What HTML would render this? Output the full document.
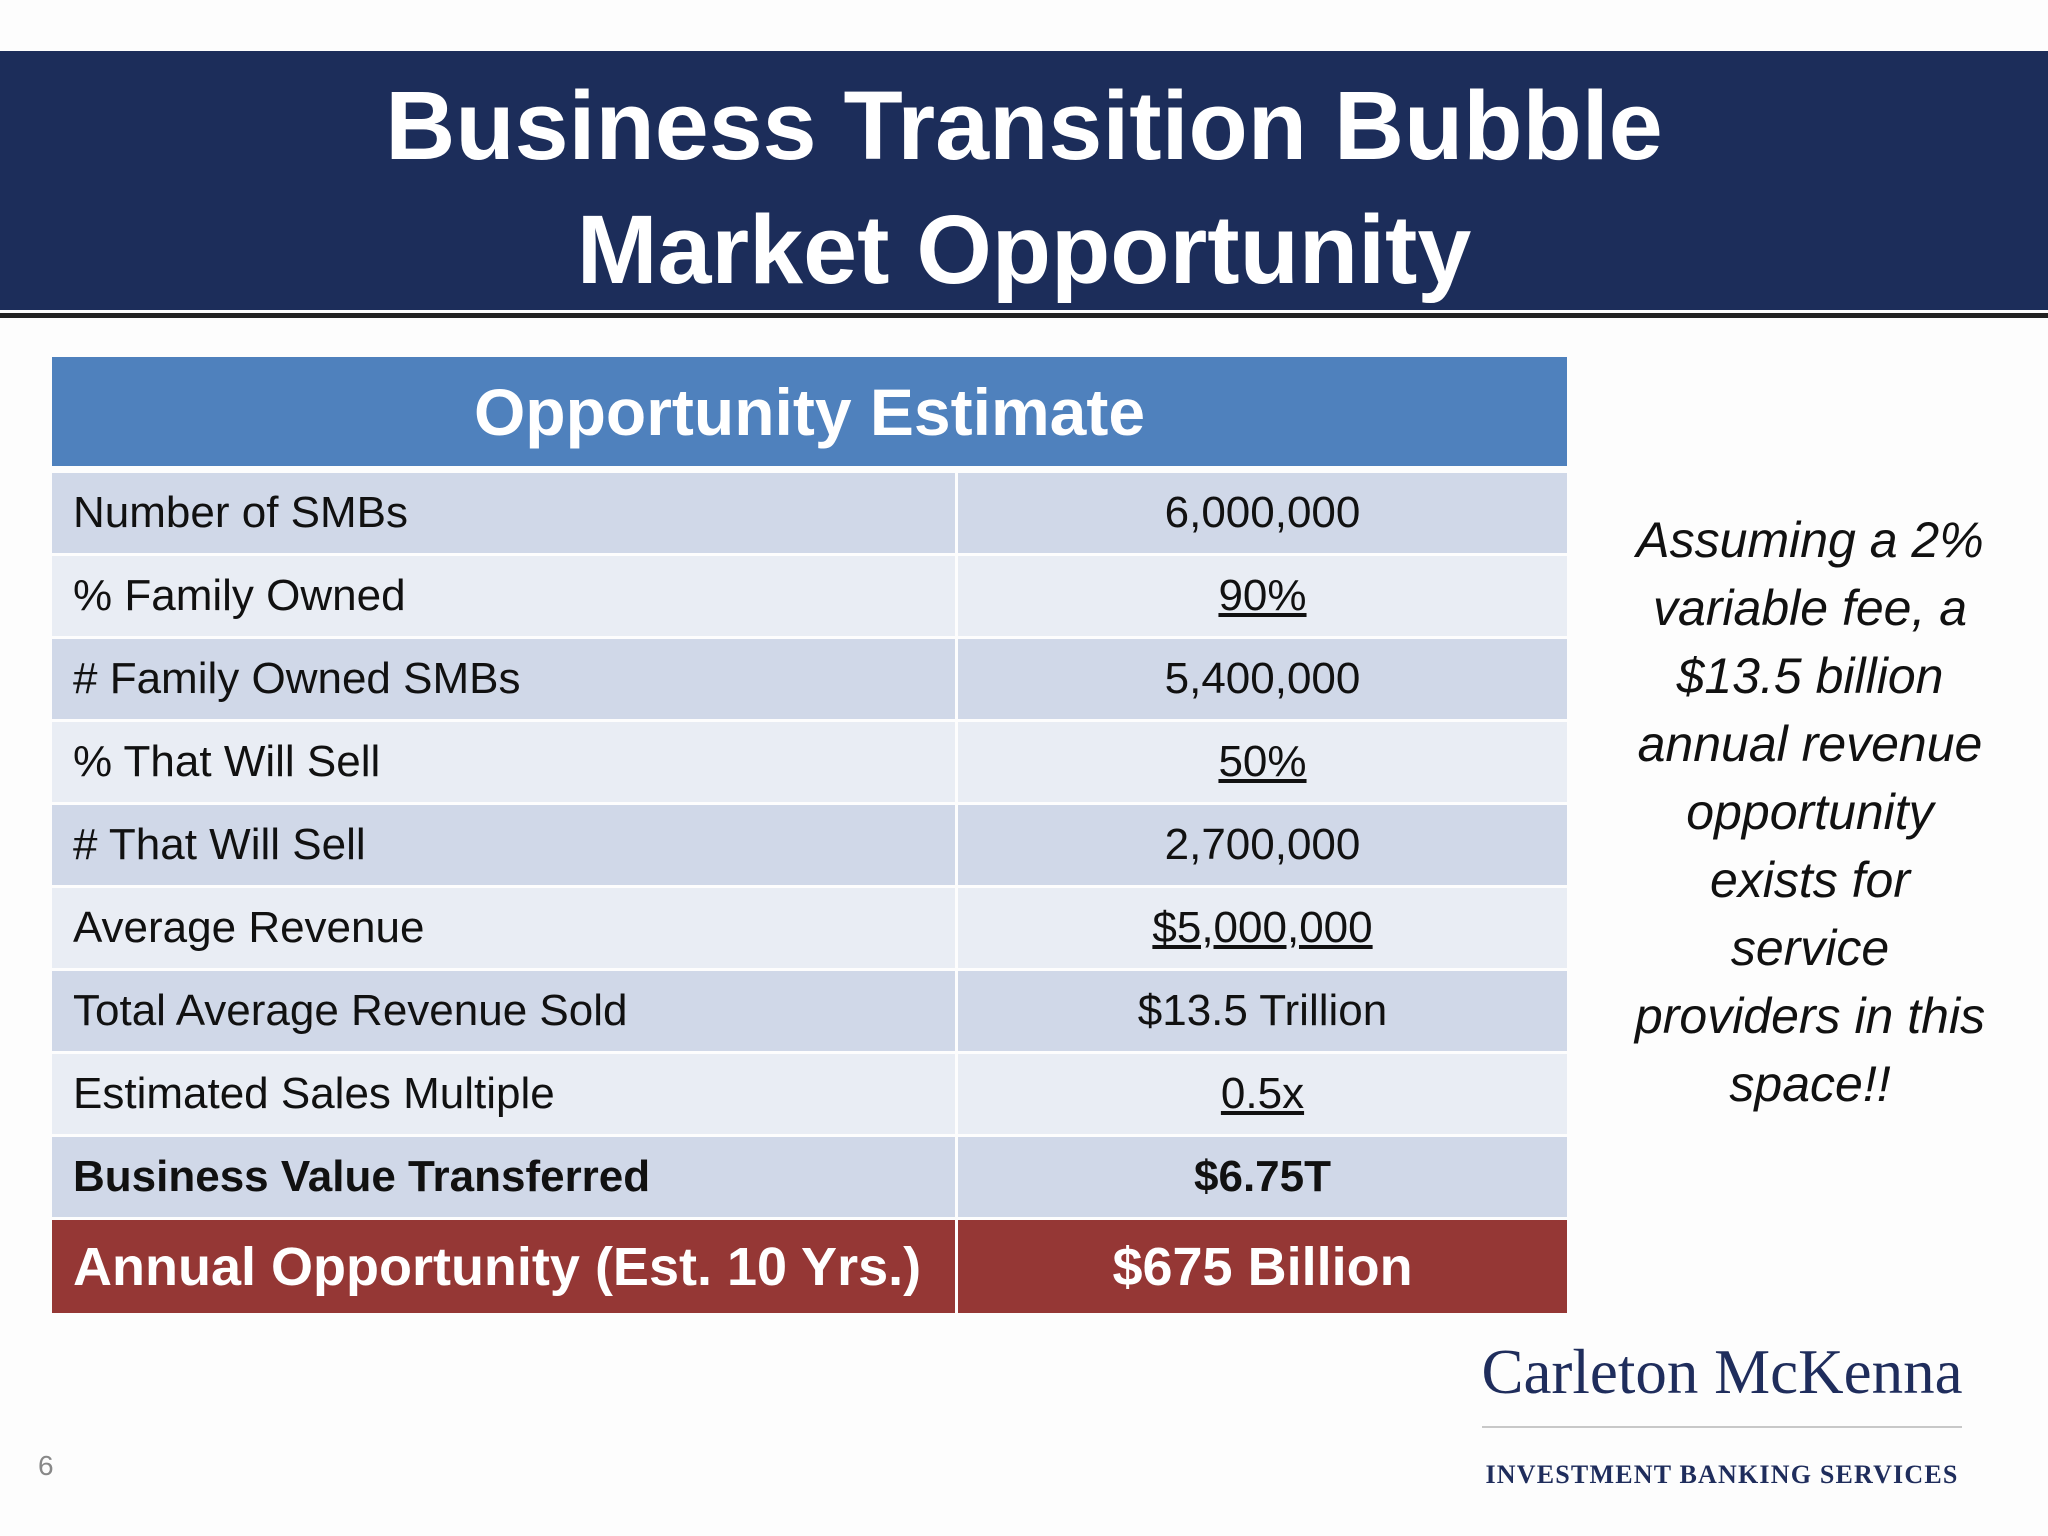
<!DOCTYPE html>
<html><head><meta charset="utf-8"><style>
body{margin:0;width:2048px;height:1536px;background:#fdfdfd;position:relative;overflow:hidden;font-family:"Liberation Sans",sans-serif}
.abs{position:absolute}
.hdr{left:0;top:51px;width:2048px;height:259px;background:#1c2d5a}
.rule{left:0;top:313px;width:2048px;height:5px;background:#222}
.t{left:0;width:2048px;text-align:center;color:#fff;font-weight:bold;font-size:97px;letter-spacing:0px;white-space:nowrap}
.row{left:52px;width:1515px;height:80px}
.cl,.cv{position:absolute;top:0;height:100%;display:flex;align-items:center;font-size:44px;color:#111}
.cl{left:0;width:903px;padding-left:21px}
.cv{left:906px;width:609px;justify-content:center}
.u{text-decoration:underline}
.side{left:1600px;width:420px;text-align:center;font-style:italic;font-size:50px;line-height:68px;color:#111;white-space:nowrap}
</style></head><body>
<div class="abs hdr"></div>
<div class="abs rule"></div>
<div class="abs t" style="top:70px">Business Transition Bubble</div>
<div class="abs t" style="top:194px">Market Opportunity</div>

<div class="abs" style="left:52px;top:357px;width:1515px;height:109px;background:#4f81bd;color:#fff;font-weight:bold;font-size:66px;display:flex;align-items:center;justify-content:center">Opportunity Estimate</div>

<div id="rows"></div>

<div class="abs side" style="top:506px">Assuming a 2%<br>variable fee, a<br>$13.5 billion<br>annual revenue<br>opportunity<br>exists for<br>service<br>providers in this<br>space!!</div>

<div class="abs" style="left:1462px;top:1336px;width:520px;text-align:center;font-family:'Liberation Serif',serif;font-size:63px;color:#1f2d5c">Carleton McKenna</div>
<div class="abs" style="left:1482px;top:1426px;width:480px;height:2px;background:#c8c8c8"></div>
<div class="abs" style="left:1462px;top:1460px;width:520px;text-align:center;font-family:'Liberation Serif',serif;font-weight:bold;font-size:26px;letter-spacing:1.2px;color:#1f2d5c">INVESTMENT BANKING SERVICES</div>
<div class="abs" style="left:38px;top:1450px;font-size:28px;color:#888">6</div>

<script>
const labels=["Number of SMBs","% Family Owned","# Family Owned SMBs","% That Will Sell","# That Will Sell","Average Revenue","Total Average Revenue Sold","Estimated Sales Multiple","Business Value Transferred","Annual Opportunity (Est. 10 Yrs.)"];
const values=["6,000,000","90%","5,400,000","50%","2,700,000","$5,000,000","$13.5 Trillion","0.5x","$6.75T","$675 Billion"];
const underlined=[false,true,false,true,false,true,false,true,false,false];
const host=document.getElementById('rows');
let y=473;
labels.forEach((l,i)=>{
  const last=i===labels.length-1;
  const h=last?93:80;
  const r=document.createElement('div');
  
  
  r.className='abs row';r.style.top=y+'px';r.style.height=h+'px';
  const bg=last?'#953735':(i%2===0?'#d0d8e8':'#e9edf4');
  const a=document.createElement('div');
  
  
  a.className='cl';a.style.background=bg;a.style.width='882px';a.textContent=l;
  const b=document.createElement('div');
  
  
  b.className='cv';b.style.background=bg;
  const s=document.createElement('span');s.textContent=values[i];if(underlined[i])s.className='u';
  b.appendChild(s);
  if(i>=8){a.style.fontWeight=b.style.fontWeight='bold';}
  if(last){a.style.color=b.style.color='#fff';a.style.fontSize=b.style.fontSize='54px';}
  r.appendChild(a);r.appendChild(b);host.appendChild(r);
  y+=h+3;
});
</script>
</body></html>
